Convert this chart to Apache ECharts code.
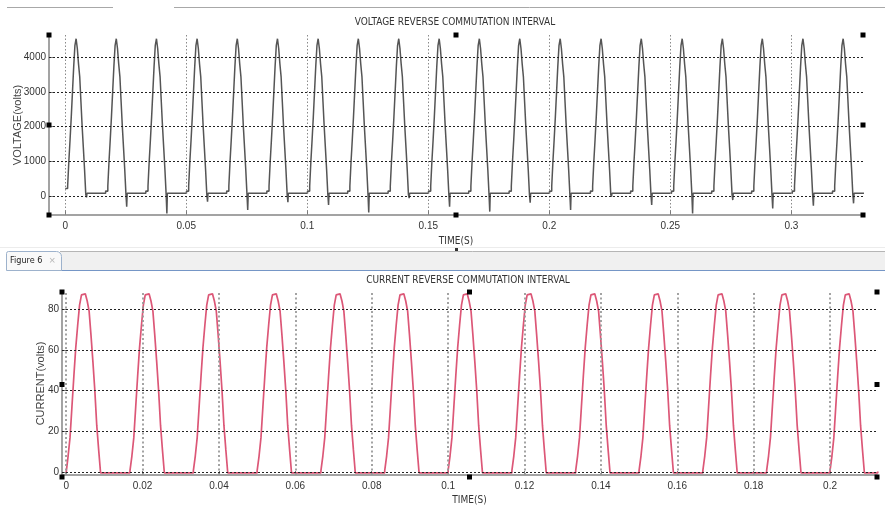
<!DOCTYPE html>
<html><head><meta charset="utf-8">
<script src="https://cdn.jsdelivr.net/npm/echarts@6/dist/echarts.min.js"></script>
<style>html,body{margin:0;padding:0;background:#fff}#c{width:885px;height:506px}</style>
</head><body><div id="c"></div>
<script>
// ---------------- data ----------------
// Voltage figure
const voltagePeakTimes = [0.0045, 0.0211, 0.0377, 0.0545, 0.0711, 0.0877, 0.1045, 0.1211, 0.1378, 0.1545,
                          0.1711, 0.1878, 0.2045, 0.2214, 0.2380, 0.2549, 0.2715, 0.2880, 0.3048, 0.3214];
const voltageSpikes = [-40, -310, -500, -160, -400, -180, -257, -476, -60, -305,
                       -448, -190, -400, -20, -260, -500, -115, -360, -280, -210];
const voltagePulseOffsetsMs = [-4.0, -3.5, -3.0, -2.5, -2.0, -1.5, -1.0, -0.5, 0.0, 0.5, 1.0, 1.5, 2.0, 2.5, 3.0, 3.5, 4.0];
const voltagePulseValues    = [140, 280, 1000, 1620, 2280, 3000, 3720, 4330, 4530, 4250, 3800, 3430, 2710, 2000, 1380, 750, 40];
const voltageBaseline = [80, 145];
const voltageTraceStart = [0, 220];
const voltageTraceEnd = [0.3300, 100];

// Current figure
const currentPeakTimes = [0.0045, 0.0212, 0.0378, 0.0545, 0.0712, 0.0879, 0.1045, 0.1212, 0.1379, 0.1545, 0.1712, 0.1879, 0.2045];
const currentPulseOffsetsMs = [-4.5, -4.0, -3.5, -3.0, -2.5, -2.0, -1.5, -1.0, -0.5, 0.0, 0.5, 1.0, 1.5, 2.0, 2.5, 3.0, 3.5, 4.0, 4.5];
const currentPulseValues    = [0.8, 8, 17, 32, 47, 61, 72, 82, 87, 87.5, 87, 84, 79, 67, 54, 40, 23, 11, -0.3];
const currentTraceStart = [0, 0];
const currentTraceEnd = [0.2125, 0.4];

// Axes
const voltageXTicks = [0, 0.05, 0.1, 0.15, 0.2, 0.25, 0.3];
const voltageYTicks = [0, 1000, 2000, 3000, 4000];
const currentXTicks = [0, 0.02, 0.04, 0.06, 0.08, 0.1, 0.12, 0.14, 0.16, 0.18, 0.2];
const currentYTicks = [0, 20, 40, 60, 80];
const voltageXRange = [-0.0067, 0.3296];
const voltageYRange = [-546, 4638];
const currentXRange = [-0.0011, 0.2123];
const currentYRange = [-1.3, 88.4];

const voltageTitle = 'VOLTAGE REVERSE COMMUTATION INTERVAL';
const currentTitle = 'CURRENT REVERSE COMMUTATION INTERVAL';
const voltageYName = 'VOLTAGE(volts)';
const currentYName = 'CURRENT(volts)';
const xName = 'TIME(S)';

function buildVoltage() {
  const pts = [voltageTraceStart.slice()];
  const n = voltagePeakTimes.length;
  const lastOff = voltagePulseOffsetsMs[voltagePulseOffsetsMs.length - 1];
  voltagePeakTimes.forEach((tp, k) => {
    voltagePulseOffsetsMs.forEach((o, i) => {
      const t = tp + o / 1000;
      if (t > 0.0006) pts.push([t, voltagePulseValues[i]]);
    });
    const tEnd = tp + lastOff / 1000;
    pts.push([tEnd + 0.0003, voltageSpikes[k]]);
    pts.push([tEnd + 0.0005, voltageBaseline[0]]);
    if (k < n - 1) pts.push([voltagePeakTimes[k + 1] + voltagePulseOffsetsMs[0] / 1000 - 0.0004, voltageBaseline[1]]);
  });
  pts.push(voltageTraceEnd.slice());
  return pts;
}
function buildCurrent() {
  const pts = [currentTraceStart.slice()];
  currentPeakTimes.forEach((tp) => {
    currentPulseOffsetsMs.forEach((o, i) => {
      const t = tp + o / 1000;
      if (t > 0) pts.push([t, currentPulseValues[i]]);
    });
  });
  pts.push(currentTraceEnd.slice());
  return pts;
}

const G1 = {left: 49, top: 35, width: 814, height: 180};
const G2 = {left: 62, top: 292, width: 815, height: 185};
const NARROW = "'Liberation Sans Narrow','Arial Narrow','DejaVu Sans Condensed',sans-serif";
const REG = "'Liberation Sans',Arial,sans-serif";

function xAxisCfg(gi, range, ticks, gap) {
  return {
    type: 'value', gridIndex: gi, min: range[0], max: range[1], scale: true,
    name: xName, nameLocation: 'middle', nameGap: gap, nameMoveOverlap: false,
    nameTextStyle: {fontFamily: NARROW, fontSize: 10, color: '#333'},
    axisLine: {show: true, onZero: false, lineStyle: {color: '#858585', width: 1.5}},
    axisTick: {show: true, inside: true, length: 4, customValues: ticks, lineStyle: {color: '#777'}},
    axisLabel: {show: true, customValues: ticks, margin: 6, fontFamily: REG, fontSize: 10, color: '#333',
                formatter: v => String(v)},
    splitLine: {show: false}
  };
}
function yAxisCfg(gi, range, ticks, name, gap) {
  return {
    type: 'value', gridIndex: gi, min: range[0], max: range[1], scale: true,
    name: name, nameLocation: 'middle', nameGap: gap, nameRotate: 90, nameMoveOverlap: false,
    nameTextStyle: {fontFamily: REG, fontSize: 11, color: '#444'},
    axisLine: {show: true, onZero: false, lineStyle: {color: '#858585', width: 1.5}},
    axisTick: {show: true, inside: true, length: 4, customValues: ticks, lineStyle: {color: '#777'}},
    axisLabel: {show: true, customValues: ticks, margin: 3, fontFamily: REG, fontSize: 10, color: '#333',
                formatter: v => String(v)},
    splitLine: {show: false}
  };
}
function gridLines(xt, yt, vStyle, hStyle) {
  return xt.map(v => ({xAxis: v, lineStyle: vStyle})).concat(yt.map(v => ({yAxis: v, lineStyle: hStyle})));
}
function handles(g) {
  const xs = [g.left, g.left + g.width / 2, g.left + g.width];
  const ys = [g.top, g.top + g.height / 2, g.top + g.height];
  const out = [];
  xs.forEach((x, i) => ys.forEach((y, j) => {
    if (i === 1 && j === 1) return;
    out.push({type: 'rect', shape: {x: x - 2.5, y: y - 2.5, width: 5, height: 5}, style: {fill: '#000'}, z: 100});
  }));
  return out;
}

const chart = echarts.init(document.getElementById('c'), null, {renderer: 'canvas'});
chart.setOption({
  animation: false,
  backgroundColor: '#fff',
  grid: [
    {left: G1.left, top: G1.top, width: G1.width, height: G1.height, containLabel: false},
    {left: G2.left, top: G2.top, width: G2.width, height: G2.height, containLabel: false}
  ],
  xAxis: [xAxisCfg(0, voltageXRange, voltageXTicks, 21), xAxisCfg(1, currentXRange, currentXTicks, 20)],
  yAxis: [yAxisCfg(0, voltageYRange, voltageYTicks, voltageYName, 26), yAxisCfg(1, currentYRange, currentYTicks, currentYName, 16)],
  series: [
    {
      type: 'line', xAxisIndex: 0, yAxisIndex: 0, data: [], z: 1, silent: true,
      markLine: {silent: true, symbol: ['none', 'none'], label: {show: false}, animation: false,
        data: gridLines(voltageXTicks, voltageYTicks,
          {color: '#8a8a8a', type: [1.5, 2], width: 1},
          {color: '#222', type: [2, 2], width: 1})}
    },
    {
      type: 'line', xAxisIndex: 1, yAxisIndex: 1, data: [], z: 1, silent: true,
      markLine: {silent: true, symbol: ['none', 'none'], label: {show: false}, animation: false,
        data: gridLines(currentXTicks, currentYTicks,
          {color: '#9a9a9a', type: [2, 2.5], width: 1.8},
          {color: '#222', type: [2, 2], width: 1})}
    },
    {
      name: 'voltage', type: 'line', xAxisIndex: 0, yAxisIndex: 0, data: buildVoltage(),
      step: 'end', showSymbol: false, z: 3, silent: true,
      lineStyle: {color: '#555', width: 1.5}
    },
    {
      name: 'current', type: 'line', xAxisIndex: 1, yAxisIndex: 1, data: buildCurrent(),
      step: 'end', showSymbol: false, z: 3, silent: true,
      lineStyle: {color: '#dc5777', width: 1.7}
    }
  ],
  graphic: [
    {type: 'line', shape: {x1: 7, y1: 7.5, x2: 113, y2: 7.5}, style: {stroke: '#a8a8a8', lineWidth: 1}},
    {type: 'line', shape: {x1: 174, y1: 7.5, x2: 885, y2: 7.5}, style: {stroke: '#a8a8a8', lineWidth: 1}},
    {type: 'line', shape: {x1: 0, y1: 247.5, x2: 885, y2: 247.5}, style: {stroke: '#ececec', lineWidth: 1}},
    {type: 'rect', shape: {x: 60, y: 251, width: 825, height: 19}, style: {fill: '#f0f0f0'}},
    {type: 'line', shape: {x1: 60, y1: 251.5, x2: 885, y2: 251.5}, style: {stroke: '#b5b5b5', lineWidth: 1}},
    {type: 'line', shape: {x1: 60, y1: 270.5, x2: 885, y2: 270.5}, style: {stroke: '#7596c6', lineWidth: 1.2}},
    {type: 'rect', shape: {x: 6.5, y: 251.5, width: 55, height: 19, r: [2, 5, 0, 0]},
     style: {fill: '#f9f9f9', stroke: '#9db2cc', lineWidth: 1}},
    {type: 'text', x: 10, y: 261, style: {text: 'Figure 6', font: "9px " + NARROW, fill: '#222', verticalAlign: 'middle'}},
    {type: 'text', x: 49, y: 261, style: {text: '×', font: "11px " + REG, fill: '#b8b8b8', verticalAlign: 'middle'}},
    {type: 'text', x: 455, y: 22, style: {text: voltageTitle, font: "10px " + NARROW, fill: '#333', align: 'center', verticalAlign: 'middle'}},
    {type: 'text', x: 468, y: 280, style: {text: currentTitle, font: "10px " + NARROW, fill: '#333', align: 'center', verticalAlign: 'middle'}},
    {type: 'rect', shape: {x: 455, y: 248, width: 3, height: 3}, style: {fill: '#333'}}
  ].concat(handles(G1), handles(G2))
});
</script>
</body></html>
